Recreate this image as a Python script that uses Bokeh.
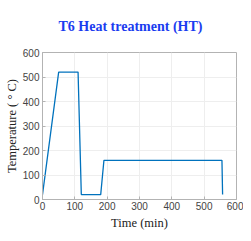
from bokeh.plotting import figure
from bokeh.models import Range1d, FixedTicker, Title
from bokeh.embed import file_html
from bokeh.resources import INLINE

time_min = [0, 50, 110, 120, 180, 190, 555, 557]
temp_c = [20, 520, 520, 20, 20, 160, 160, 20]
x_ticks = [0, 100, 200, 300, 400, 500, 600]
y_ticks = [0, 100, 200, 300, 400, 500, 600]

p = figure(width=243, height=233, output_backend="svg", toolbar_location=None,
           x_range=Range1d(0, 600), y_range=Range1d(0, 600),
           min_border_left=42, min_border_right=7, min_border_top=52, min_border_bottom=34)

p.line(time_min, temp_c, line_color="#0072BD", line_width=1.3)

t = Title(text="T6 Heat treatment (HT)", text_font="Liberation Serif", text_font_size="14px",
          text_font_style="bold", text_color="#1a3cf0", align="left", offset=16, standoff=34,
          vertical_align="top")
p.add_layout(t, "above")

for ax in (p.xaxis, p.yaxis):
    ax.axis_line_color = "#b3b3b3"
    ax.major_tick_line_color = "#b3b3b3"
    ax.major_tick_in = 3
    ax.major_tick_out = 0
    ax.minor_tick_line_color = None
    ax.major_label_text_font = "Liberation Sans"
    ax.major_label_text_font_size = "10px"
    ax.major_label_text_color = "#444444"
    ax.axis_label_text_font = "Liberation Serif"
    ax.axis_label_text_font_size = "12.5px"
    ax.axis_label_text_font_style = "normal"
    ax.axis_label_text_color = "#222222"

p.xaxis.major_label_standoff = 2
p.yaxis.major_label_standoff = 3
p.xaxis.ticker = FixedTicker(ticks=x_ticks)
p.yaxis.ticker = FixedTicker(ticks=y_ticks)
p.xaxis.axis_label = "Time (min)"
p.yaxis.axis_label = "Temperature ( ° C)"
p.xaxis.axis_label_standoff = 3
p.yaxis.axis_label_standoff = 1

p.outline_line_color = "#b3b3b3"
p.grid.grid_line_color = "#eeeeee"
p.grid.grid_line_width = 1
p.background_fill_color = "white"
p.border_fill_color = "white"

open("out.html", "w").write(file_html(p, INLINE))
